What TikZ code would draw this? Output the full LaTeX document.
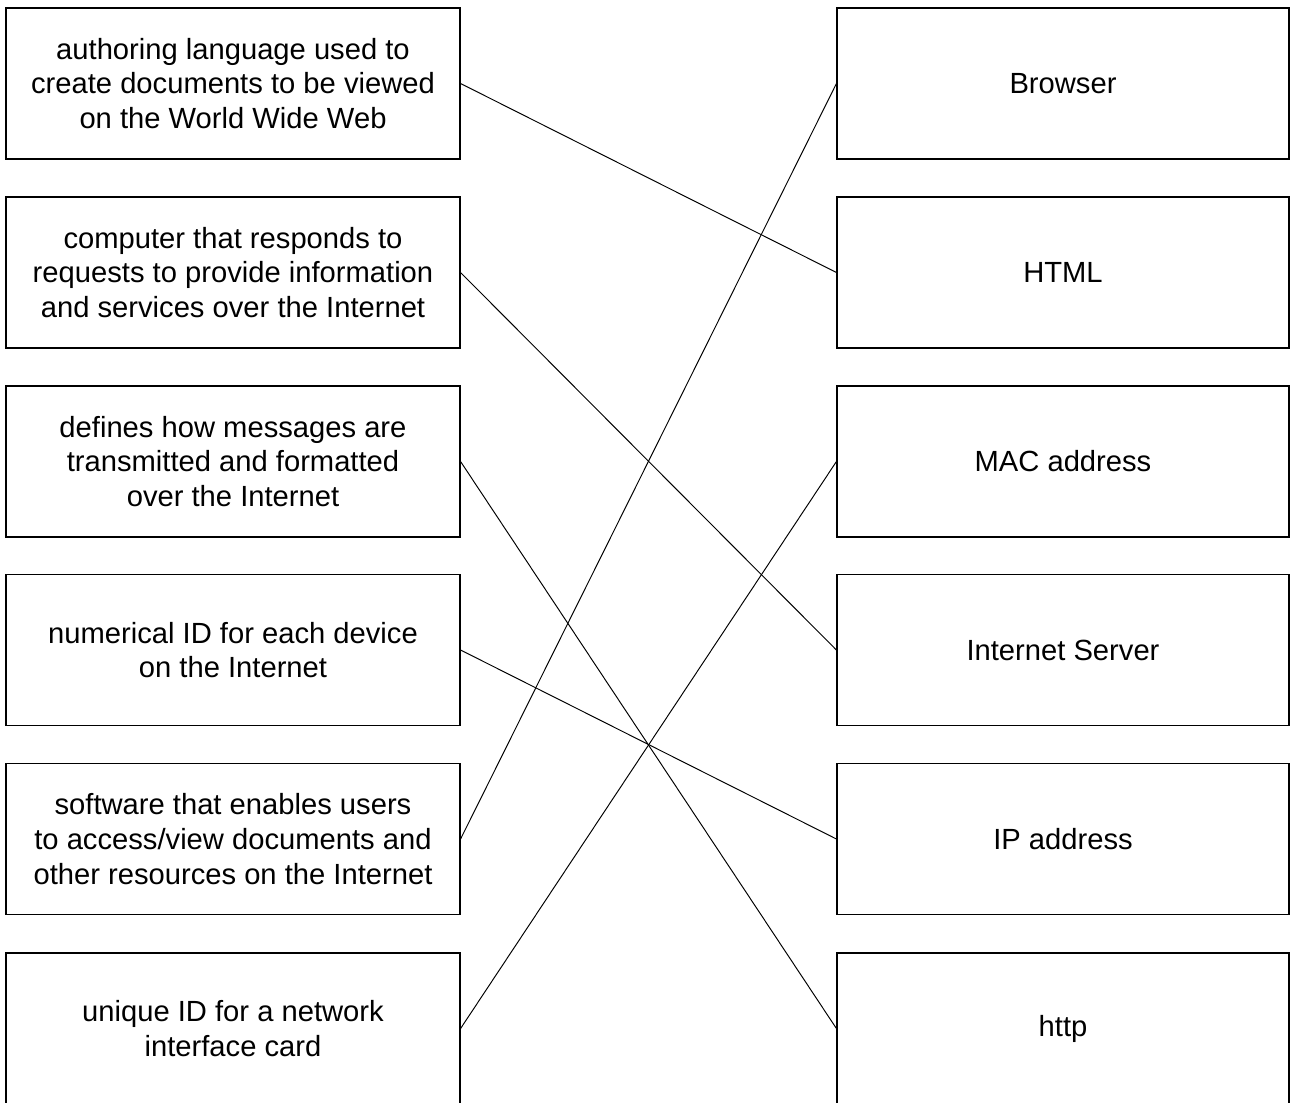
\documentclass[tikz,border=0pt]{standalone}
\usepackage{fontspec}
\setmainfont{Liberation Sans}
\usetikzlibrary{positioning}

\begin{document}
\begin{tikzpicture}[
    defbox/.style={draw, line width=0.65pt, minimum width=9.08cm, minimum height=3.02cm,
        align=center, inner sep=0pt, font=\fontsize{16.6}{19.7}\selectfont},
    termbox/.style={defbox, minimum width=9.04cm},
    link/.style={line width=0.55pt}
]
    %%%%% FRAME %%%%%
    \useasboundingbox (0, 0) rectangle (25.84, -22.04);

    %%%%% LEFT COLUMN %%%%%
    \node[defbox] (def1) at (4.66, -1.67) {authoring language used to\\create documents to be viewed\\on the World Wide Web};
    \node[defbox] (def2) at (4.66, -5.45) {computer that responds to\\requests to provide information\\and services over the Internet};
    \node[defbox] (def3) at (4.66, -9.23) {defines how messages are\\transmitted and formatted\\over the Internet};
    \node[defbox] (def4) at (4.66, -13.00) {numerical ID for each device\\on the Internet};
    \node[defbox] (def5) at (4.66, -16.78) {software that enables users\\to access/view documents and\\other resources on the Internet};
    \node[defbox] (def6) at (4.66, -20.57) {unique ID for a network\\interface card};

    %%%%% RIGHT COLUMN %%%%%
    \node[termbox] (browser) at (21.26, -1.67) {Browser};
    \node[termbox] (html) at (21.26, -5.45) {HTML};
    \node[termbox] (mac) at (21.26, -9.23) {MAC address};
    \node[termbox] (server) at (21.26, -13.00) {Internet Server};
    \node[termbox] (ip) at (21.26, -16.78) {IP address};
    \node[termbox] (http) at (21.26, -20.57) {http};

    %%%%% MATCHING LINES %%%%%
    \draw[link] (def1.east) -- (html.west);
    \draw[link] (def2.east) -- (server.west);
    \draw[link] (def3.east) -- (http.west);
    \draw[link] (def4.east) -- (ip.west);
    \draw[link] (def5.east) -- (browser.west);
    \draw[link] (def6.east) -- (mac.west);
\end{tikzpicture}
\end{document}
